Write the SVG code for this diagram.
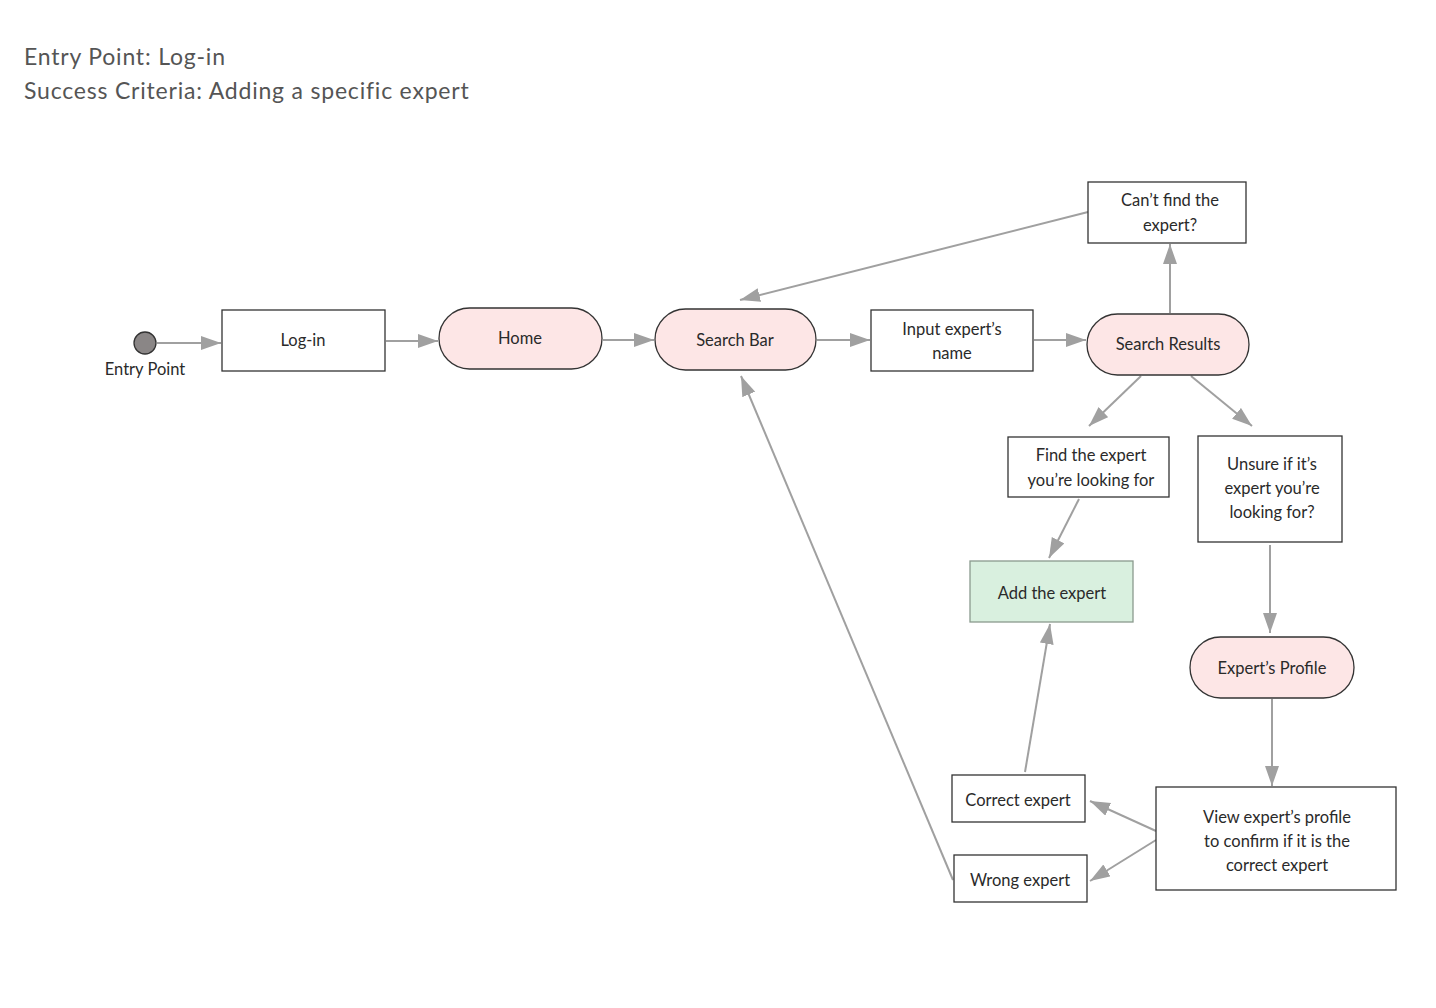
<svg xmlns="http://www.w3.org/2000/svg" width="1436" height="1008" viewBox="0 0 1436 1008">
<style>
.title{font-family:Lato,"Noto Sans","Liberation Sans",sans-serif;font-size:23px;fill:#555;letter-spacing:0.8px}
.lbl{font-family:Lato,"Noto Sans","Liberation Sans",sans-serif;font-size:16.5px;fill:#2a2a2a;text-anchor:middle}
.box{fill:#fff;stroke:#333;stroke-width:1.3}
.pill{fill:#fde6e6;stroke:#333;stroke-width:1.3}
.green{fill:#d9f0df;stroke:#8a9a8e;stroke-width:1.3}
.edge{fill:none;stroke:#a0a0a0;stroke-width:2;marker-end:url(#arr)}
</style>
<defs>
<marker id="arr" markerUnits="userSpaceOnUse" markerWidth="22" markerHeight="16" refX="20" refY="7" orient="auto">
<path d="M0,0 L20,7 L0,14 z" fill="#a0a0a0"/>
</marker>
</defs>
<rect width="1436" height="1008" fill="#fff"/>
<text class="title" x="24" y="65">Entry Point: Log-in</text>
<text class="title" x="24" y="99">Success Criteria: Adding a specific expert</text>

<g id="connectors">
<line class="edge" x1="157" y1="343" x2="221" y2="343"/>
<line class="edge" x1="386" y1="341" x2="438" y2="341"/>
<line class="edge" x1="603" y1="340" x2="654" y2="340"/>
<line class="edge" x1="817" y1="340" x2="870" y2="340"/>
<line class="edge" x1="1034" y1="340" x2="1086" y2="340"/>
<line class="edge" x1="1170" y1="313" x2="1170" y2="244"/>
<line class="edge" x1="1088" y1="212" x2="740" y2="300"/>
<line class="edge" x1="1141" y1="376" x2="1089" y2="426"/>
<line class="edge" x1="1191" y1="376" x2="1252" y2="426"/>
<line class="edge" x1="1079" y1="499" x2="1049" y2="558"/>
<line class="edge" x1="1270" y1="545" x2="1270" y2="633"/>
<line class="edge" x1="1272" y1="699" x2="1272" y2="786"/>
<line class="edge" x1="1156" y1="831" x2="1090" y2="801"/>
<line class="edge" x1="1156" y1="840" x2="1090" y2="881"/>
<line class="edge" x1="1025" y1="772" x2="1050" y2="624"/>
<line class="edge" x1="953" y1="880" x2="741" y2="376"/>
</g>

<g id="entry">
<circle cx="145" cy="343" r="11" fill="#8a8686" stroke="#333" stroke-width="1.3"/>
<text class="lbl" x="145" y="375">Entry Point</text>
</g>
<g id="login">
<rect class="box" x="222" y="310" width="163" height="61"/>
<text class="lbl" x="303" y="346">Log-in</text>
</g>
<g id="home">
<rect class="pill" x="439" y="308" width="163" height="61" rx="30.5"/>
<text class="lbl" x="520" y="344">Home</text>
</g>
<g id="searchbar">
<rect class="pill" x="655" y="309" width="161" height="61" rx="30.5"/>
<text class="lbl" x="735" y="346">Search Bar</text>
</g>
<g id="input">
<rect class="box" x="871" y="310" width="162" height="61"/>
<text class="lbl" x="952" y="335">Input expert’s</text>
<text class="lbl" x="952" y="359">name</text>
</g>
<g id="results">
<rect class="pill" x="1087" y="314" width="162" height="61" rx="30.5"/>
<text class="lbl" x="1168" y="350">Search Results</text>
</g>
<g id="cantfind">
<rect class="box" x="1088" y="182" width="158" height="61"/>
<text class="lbl" x="1170" y="206">Can’t find the</text>
<text class="lbl" x="1170" y="231">expert?</text>
</g>
<g id="find">
<rect class="box" x="1008" y="437" width="161" height="60"/>
<text class="lbl" x="1091" y="461">Find the expert</text>
<text class="lbl" x="1091" y="486">you’re looking for</text>
</g>
<g id="add">
<rect class="green" x="970" y="561" width="163" height="61"/>
<text class="lbl" x="1052" y="599">Add the expert</text>
</g>
<g id="unsure">
<rect class="box" x="1198" y="436" width="144" height="106"/>
<text class="lbl" x="1272" y="470">Unsure if it’s</text>
<text class="lbl" x="1272" y="494">expert you’re</text>
<text class="lbl" x="1272" y="518">looking for?</text>
</g>
<g id="profile">
<rect class="pill" x="1190" y="637" width="164" height="61" rx="30.5"/>
<text class="lbl" x="1272" y="674">Expert’s Profile</text>
</g>
<g id="view">
<rect class="box" x="1156" y="787" width="240" height="103"/>
<text class="lbl" x="1277" y="823">View expert’s profile</text>
<text class="lbl" x="1277" y="847">to confirm if it is the</text>
<text class="lbl" x="1277" y="871">correct expert</text>
</g>
<g id="correct">
<rect class="box" x="952" y="775" width="133" height="47"/>
<text class="lbl" x="1018" y="806">Correct expert</text>
</g>
<g id="wrong">
<rect class="box" x="954" y="855" width="133" height="47"/>
<text class="lbl" x="1020" y="886">Wrong expert</text>
</g>
</svg>
